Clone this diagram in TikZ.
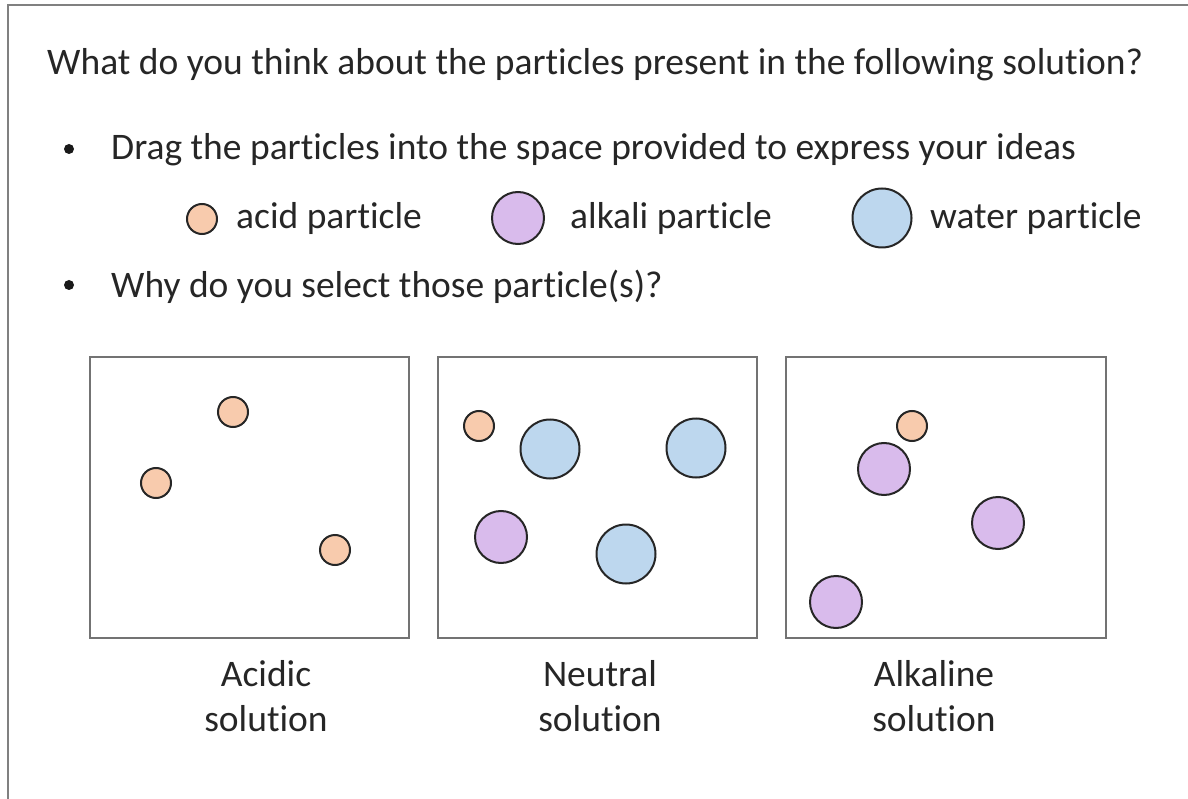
\documentclass[tikz,border=0pt]{standalone}
\usepackage{fontspec}
\setmainfont[RawFeature={-liga;-clig;-calt;-dlig}]{Carlito}
\begin{document}
\begin{tikzpicture}[x=1pt,y=-1pt,
  acid/.style={circle,draw=black!85,line width=2pt,fill=acidc,minimum size=30pt,inner sep=0pt},
  alkali/.style={circle,draw=black!85,line width=2pt,fill=alkc,minimum size=52pt,inner sep=0pt},
  water/.style={circle,draw=black!85,line width=2pt,fill=waterc,minimum size=59pt,inner sep=0pt},
  solbox/.style={draw=black!55,line width=1.6pt},
  txt/.style={anchor=base west,inner sep=0pt,text=black!85,font=\fontsize{37.5}{45}\selectfont},
  lbl/.style={align=center,inner sep=0pt,text=black!85,font=\fontsize{37.5}{45}\selectfont},
  bul/.style={circle,fill=black!90,inner sep=0pt,minimum size=10pt}]
\definecolor{acidc}{HTML}{F8CBAD}
\definecolor{alkc}{HTML}{D9BBEC}
\definecolor{waterc}{HTML}{BDD7EE}
\useasboundingbox (0,0) rectangle (1188,799);
\draw[black!50,line width=2pt] (8,800) -- (8,5) -- (1189,5);
\node[txt] (title) at (47,75) {What do you think about the particles present in the following solution?};
\node[bul] (b1) at (69,149) {};
\node[txt] (drag) at (111,160) {Drag the particles into the space provided to express your ideas};
\node[acid] (la) at (202,219) {};
\node[txt] (lat) at (236,229) {acid particle};
\node[alkali] (lk) at (518,218) {};
\node[txt] (lkt) at (570,229) {alkali particle};
\node[water] (lw) at (882,218) {};
\node[txt] (lwt) at (930,229) {water particle};
\node[bul] (b2) at (69,285) {};
\node[txt] (why) at (111,298) {Why do you select those particle(s)?};
\draw[solbox] (90,357) rectangle (409,638);
\draw[solbox] (438,357) rectangle (757,638);
\draw[solbox] (786,357) rectangle (1106,638);
\node[acid] (a1) at (233,412) {};
\node[acid] (a2) at (156,483) {};
\node[acid] (a3) at (335,550) {};
\node[acid] (n1) at (479,426) {};
\node[water] (n2) at (550,449) {};
\node[water] (n3) at (696,448) {};
\node[alkali] (n4) at (501,537) {};
\node[water] (n5) at (626,554) {};
\node[acid] (k1) at (912,426) {};
\node[alkali] (k2) at (884,469) {};
\node[alkali] (k3) at (998,523) {};
\node[alkali] (k4) at (836,602) {};
\node[lbl] (l1) at (266,696) {Acidic\\solution};
\node[lbl] (l2) at (600,696) {Neutral\\solution};
\node[lbl] (l3) at (934,696) {Alkaline\\solution};
\end{tikzpicture}
\end{document}
